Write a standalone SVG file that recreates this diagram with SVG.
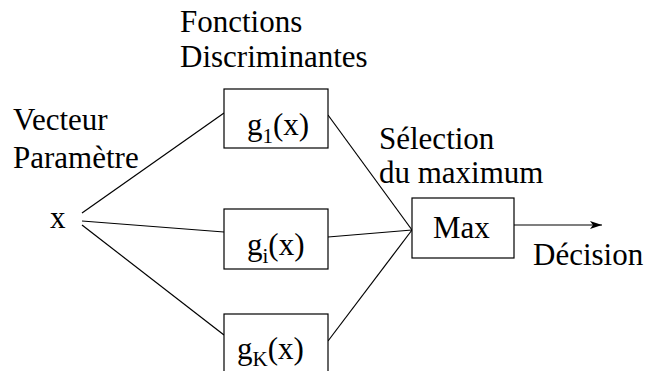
<svg xmlns="http://www.w3.org/2000/svg" width="649" height="371" viewBox="0 0 649 371">
<defs>
<marker id="arr" markerWidth="12" markerHeight="8" refX="12" refY="4" orient="auto" markerUnits="userSpaceOnUse">
<path d="M0,0 L12,4 L0,8 L3,4 Z" fill="#000"/>
</marker>
</defs>
<rect width="649" height="371" fill="#fff"/>
<g id="labels">
<text x="180" y="32" font-family="Liberation Serif" font-size="31">Fonctions</text>
<text x="180" y="67" font-family="Liberation Serif" font-size="31">Discriminantes</text>
<text x="13" y="130" font-family="Liberation Serif" font-size="31">Vecteur</text>
<text x="13" y="168" font-family="Liberation Serif" font-size="31">Param&#232;tre</text>
<text x="379" y="149" font-family="Liberation Serif" font-size="31">S&#233;lection</text>
<text x="379" y="183" font-family="Liberation Serif" font-size="31">du maximum</text>
<text x="533" y="265" font-family="Liberation Serif" font-size="31">D&#233;cision</text>
</g>
<g id="connectors" stroke="#000" stroke-width="1.2" fill="none">
<line x1="82" y1="213" x2="224" y2="113"/>
<line x1="82" y1="221" x2="224" y2="232"/>
<line x1="82" y1="225" x2="224" y2="335"/>
<line x1="328" y1="115" x2="412" y2="230"/>
<line x1="328" y1="237" x2="412" y2="230"/>
<line x1="328" y1="341" x2="412" y2="230"/>
<line x1="514" y1="225" x2="602" y2="225" marker-end="url(#arr)"/>
</g>
<g id="x"><text x="50" y="228" font-family="Liberation Serif" font-size="31">x</text></g>
<g id="g1">
<rect x="224" y="89" width="104" height="59" fill="#fff" stroke="#000" stroke-width="1.2"/>
<text x="247" y="135" font-family="Liberation Serif" font-size="31">g<tspan font-size="21" dy="8">1</tspan><tspan dy="-8">(x)</tspan></text>
</g>
<g id="gi">
<rect x="224" y="209" width="104" height="60" fill="#fff" stroke="#000" stroke-width="1.2"/>
<text x="247" y="255" font-family="Liberation Serif" font-size="31">g<tspan font-size="21" dy="8">i</tspan><tspan dy="-8">(x)</tspan></text>
</g>
<g id="gK">
<rect x="224" y="314" width="104" height="70" fill="#fff" stroke="#000" stroke-width="1.2"/>
<text x="237" y="359" font-family="Liberation Serif" font-size="31">g<tspan font-size="21" dy="7">K</tspan><tspan dy="-7">(x)</tspan></text>
</g>
<g id="max">
<rect x="412" y="198" width="102" height="60" fill="#fff" stroke="#000" stroke-width="1.2"/>
<text x="433" y="238" font-family="Liberation Serif" font-size="31">Max</text>
</g>
</svg>
